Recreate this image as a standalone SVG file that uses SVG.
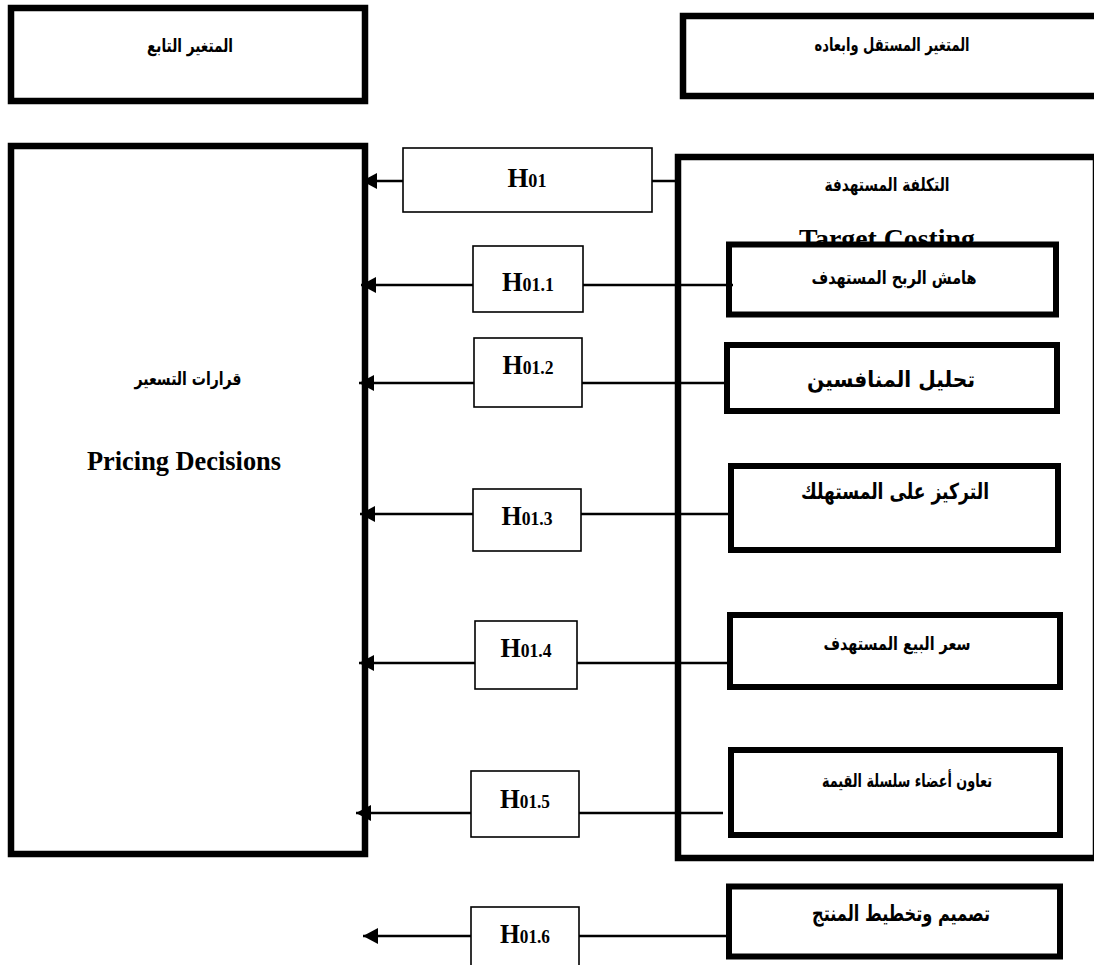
<svg xmlns="http://www.w3.org/2000/svg" width="1094" height="965" viewBox="0 0 1094 965">
<style>
.thick{fill:#fff;stroke:#000;stroke-width:6.5}
.inner{fill:#fff;stroke:#000;stroke-width:6}
.hbox{fill:#fff;stroke:#000;stroke-width:1.6}
.ar{font-family:"DejaVu Sans",sans-serif;font-weight:bold;fill:#000;text-anchor:middle}
.a16{font-size:18px}
.a20{font-size:22px}
.lat{font-family:"Liberation Serif",serif;font-weight:bold;fill:#000;text-anchor:middle}
.hl{font-family:"Liberation Serif",serif;font-weight:bold;fill:#000;text-anchor:middle;font-size:28px}
.sub{font-size:19px}
.con{stroke:#000;stroke-width:2.5;fill:none}
</style>
<defs>
<marker id="ah" markerUnits="userSpaceOnUse" markerWidth="15" markerHeight="16" viewBox="0 0 15 16" refX="15" refY="8" orient="auto">
<path d="M0,0 L15,8 L0,16 z" fill="#000"/>
</marker>
</defs>
<rect width="1094" height="965" fill="#fff"/>

<g id="dependent-title">
<rect class="thick" x="11" y="8" width="354" height="93"/>
<text class="ar a16" x="190" y="52" textLength="86" lengthAdjust="spacingAndGlyphs">المتغير التابع</text>
</g>

<g id="independent-title">
<rect class="thick" x="683" y="16" width="420" height="80"/>
<text class="ar a16" x="892" y="51" textLength="155" lengthAdjust="spacingAndGlyphs">المتغير المستقل وابعاده</text>
</g>

<g id="pricing-decisions">
<rect class="thick" x="11" y="146" width="354" height="708"/>
<text class="ar a16" x="188" y="385" textLength="107" lengthAdjust="spacingAndGlyphs">قرارات التسعير</text>
<text class="lat" x="184" y="470" font-size="27" textLength="194" lengthAdjust="spacingAndGlyphs">Pricing Decisions</text>
</g>

<g id="target-costing">
<rect class="thick" x="678" y="157" width="418" height="701" stroke-width="7"/>
<text class="ar a16" x="887" y="191" textLength="125" lengthAdjust="spacingAndGlyphs">التكلفة المستهدفة</text>
<text class="lat" x="887" y="248" font-size="27" textLength="176" lengthAdjust="spacingAndGlyphs">Target Costing</text>
</g>

<g id="profit-margin">
<rect class="inner" x="729" y="244.5" width="327" height="70"/>
<text class="ar a16" x="894" y="284" textLength="165" lengthAdjust="spacingAndGlyphs">هامش الربح المستهدف</text>
</g>

<g id="competitor-analysis">
<rect class="inner" x="727" y="345" width="330" height="66"/>
<text class="ar a20" x="891" y="387" textLength="168" lengthAdjust="spacingAndGlyphs">تحليل المنافسين</text>
</g>

<g id="customer-focus">
<rect class="inner" x="731" y="466" width="327" height="84"/>
<text class="ar a20" x="895" y="499" textLength="188" lengthAdjust="spacingAndGlyphs">التركيز على المستهلك</text>
</g>

<g id="target-price">
<rect class="inner" x="730" y="615" width="330" height="72"/>
<text class="ar a16" x="897" y="650" textLength="147" lengthAdjust="spacingAndGlyphs">سعر البيع المستهدف</text>
</g>

<g id="value-chain">
<rect class="inner" x="731" y="750" width="329" height="85"/>
<text class="ar a16" x="907" y="787" textLength="170" lengthAdjust="spacingAndGlyphs">تعاون أعضاء سلسلة القيمة</text>
</g>

<g id="product-design">
<rect class="inner" x="729" y="886.5" width="331" height="70"/>
<text class="ar a20" x="901" y="921" textLength="178" lengthAdjust="spacingAndGlyphs">تصميم وتخطيط المنتج</text>
</g>

<g id="h01">
<rect class="hbox" x="403" y="148" width="249" height="64"/>
<text class="hl" x="527" y="187" textLength="39" lengthAdjust="spacingAndGlyphs">H<tspan class="sub">01</tspan></text>
</g>
<g id="h011">
<rect class="hbox" x="473" y="246" width="110" height="66"/>
<text class="hl" x="528" y="291" textLength="52" lengthAdjust="spacingAndGlyphs">H<tspan class="sub">01.1</tspan></text>
</g>
<g id="h012">
<rect class="hbox" x="474" y="338" width="108" height="69"/>
<text class="hl" x="528" y="374" textLength="51" lengthAdjust="spacingAndGlyphs">H<tspan class="sub">01.2</tspan></text>
</g>
<g id="h013">
<rect class="hbox" x="473" y="489" width="108" height="62"/>
<text class="hl" x="527" y="525" textLength="51" lengthAdjust="spacingAndGlyphs">H<tspan class="sub">01.3</tspan></text>
</g>
<g id="h014">
<rect class="hbox" x="475" y="621" width="102" height="68"/>
<text class="hl" x="526" y="657" textLength="51" lengthAdjust="spacingAndGlyphs">H<tspan class="sub">01.4</tspan></text>
</g>
<g id="h015">
<rect class="hbox" x="471" y="771" width="108" height="66"/>
<text class="hl" x="525" y="808" textLength="50" lengthAdjust="spacingAndGlyphs">H<tspan class="sub">01.5</tspan></text>
</g>
<g id="h016">
<rect class="hbox" x="471" y="907" width="108" height="70"/>
<text class="hl" x="525" y="943" textLength="50" lengthAdjust="spacingAndGlyphs">H<tspan class="sub">01.6</tspan></text>
</g>

<g id="connectors">
<line class="con" x1="403" y1="181" x2="362" y2="181" marker-end="url(#ah)"/>
<line class="con" x1="652" y1="181" x2="676" y2="181"/>
<line class="con" x1="473" y1="285" x2="361" y2="285" marker-end="url(#ah)"/>
<line class="con" x1="583" y1="285" x2="733" y2="285"/>
<line class="con" x1="474" y1="383" x2="359" y2="383" marker-end="url(#ah)"/>
<line class="con" x1="582" y1="383" x2="727" y2="383"/>
<line class="con" x1="473" y1="514" x2="360" y2="514" marker-end="url(#ah)"/>
<line class="con" x1="581" y1="514" x2="731" y2="514"/>
<line class="con" x1="475" y1="663" x2="359" y2="663" marker-end="url(#ah)"/>
<line class="con" x1="577" y1="663" x2="730" y2="663"/>
<line class="con" x1="471" y1="813" x2="356" y2="813" marker-end="url(#ah)"/>
<line class="con" x1="579" y1="813" x2="723" y2="813"/>
<line class="con" x1="471" y1="936" x2="363" y2="936" marker-end="url(#ah)"/>
<line class="con" x1="579" y1="936" x2="729" y2="936"/>
</g>
</svg>
